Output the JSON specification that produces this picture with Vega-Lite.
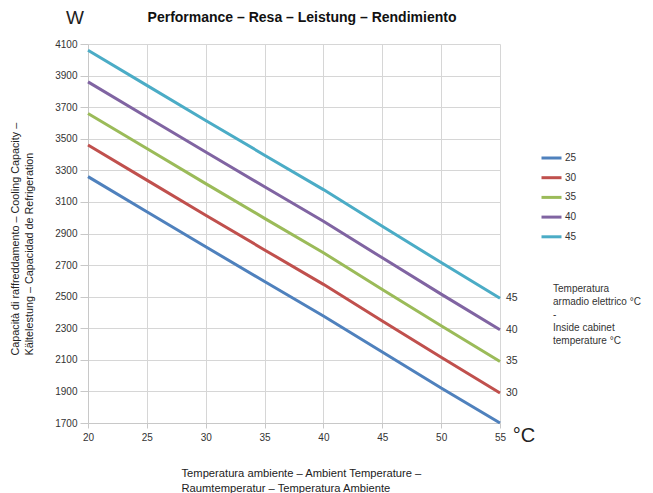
{
  "$schema": "https://vega.github.io/schema/vega-lite/v6.json",
  "autosize": "none",
  "width": 412,
  "height": 379,
  "padding": {"left": 88, "top": 44, "right": 153, "bottom": 70},
  "background": "white",
  "config": {"font": "Liberation Sans", "view": {"stroke": null}},
  "title": {"text": "Performance – Resa – Leistung – Rendimiento", "fontSize": 14, "fontWeight": "bold", "color": "#111111", "anchor": "middle", "frame": "group", "offset": -16, "dx": 8},
  "datasets": {
    "curves": [
      {"t": 20, "series": "25", "capacity": 3260}, {"t": 25, "series": "25", "capacity": 3038}, {"t": 30, "series": "25", "capacity": 2816}, {"t": 35, "series": "25", "capacity": 2596}, {"t": 40, "series": "25", "capacity": 2378}, {"t": 45, "series": "25", "capacity": 2150}, {"t": 50, "series": "25", "capacity": 1922}, {"t": 55, "series": "25", "capacity": 1700},
      {"t": 20, "series": "30", "capacity": 3460}, {"t": 25, "series": "30", "capacity": 3238}, {"t": 30, "series": "30", "capacity": 3016}, {"t": 35, "series": "30", "capacity": 2796}, {"t": 40, "series": "30", "capacity": 2578}, {"t": 45, "series": "30", "capacity": 2346}, {"t": 50, "series": "30", "capacity": 2116}, {"t": 55, "series": "30", "capacity": 1890},
      {"t": 20, "series": "35", "capacity": 3660}, {"t": 25, "series": "35", "capacity": 3438}, {"t": 30, "series": "35", "capacity": 3216}, {"t": 35, "series": "35", "capacity": 2996}, {"t": 40, "series": "35", "capacity": 2778}, {"t": 45, "series": "35", "capacity": 2546}, {"t": 50, "series": "35", "capacity": 2316}, {"t": 55, "series": "35", "capacity": 2090},
      {"t": 20, "series": "40", "capacity": 3860}, {"t": 25, "series": "40", "capacity": 3638}, {"t": 30, "series": "40", "capacity": 3416}, {"t": 35, "series": "40", "capacity": 3196}, {"t": 40, "series": "40", "capacity": 2978}, {"t": 45, "series": "40", "capacity": 2746}, {"t": 50, "series": "40", "capacity": 2516}, {"t": 55, "series": "40", "capacity": 2290},
      {"t": 20, "series": "45", "capacity": 4060}, {"t": 25, "series": "45", "capacity": 3838}, {"t": 30, "series": "45", "capacity": 3616}, {"t": 35, "series": "45", "capacity": 3396}, {"t": 40, "series": "45", "capacity": 3178}, {"t": 45, "series": "45", "capacity": 2946}, {"t": 50, "series": "45", "capacity": 2716}, {"t": 55, "series": "45", "capacity": 2490}
    ]
  },
  "layer": [
    {
      "data": {"name": "curves"},
      "mark": {"type": "line", "strokeWidth": 3},
      "encoding": {
        "x": {
          "field": "t", "type": "quantitative",
          "scale": {"domain": [20, 55], "nice": false, "zero": false},
          "axis": {
            "values": [20, 25, 30, 35, 40, 45, 50, 55], "tickCount": 20,
            "grid": true, "gridColor": "#d6d6d6",
            "domainColor": "#c8c8c8", "tickColor": "#c8c8c8", "tickSize": 5,
            "labelFontSize": 10, "labelColor": "#333333", "labelPadding": 4, "labelFlush": false,
            "title": ["Temperatura ambiente – Ambient Temperature –", "Raumtemperatur – Temperatura Ambiente"],
            "titleFontSize": 11.2, "titleFontWeight": "normal", "titleColor": "#222222",
            "titleLineHeight": 15, "titleAlign": "left", "titleAnchor": "start", "titleBaseline": "top",
            "titleX": 93, "titleY": 44
          }
        },
        "y": {
          "field": "capacity", "type": "quantitative",
          "scale": {"domain": [1700, 4100], "nice": false, "zero": false},
          "axis": {
            "values": [1700, 1900, 2100, 2300, 2500, 2700, 2900, 3100, 3300, 3500, 3700, 3900, 4100],
            "tickCount": 20, "labelOverlap": false,
            "format": "d",
            "grid": true, "gridColor": "#d6d6d6",
            "domainColor": "#c8c8c8", "tickColor": "#c8c8c8", "tickSize": 8,
            "labelFontSize": 10, "labelColor": "#333333", "labelPadding": 3,
            "title": ["Capacità di raffreddamento – Cooling Capacity –", "Kältelestung – Capacidad de Refrigeration"],
            "titleFontSize": 10.8, "titleFontWeight": "normal", "titleColor": "#222222",
            "titleLineHeight": 14, "titleAlign": "left", "titleAnchor": "start", "titleBaseline": "top",
            "titleAngle": -90, "titleX": -79, "titleY": 311
          }
        },
        "color": {
          "field": "series", "type": "nominal",
          "scale": {"domain": ["25", "30", "35", "40", "45"], "range": ["#4F81BD", "#C0504D", "#9BBB59", "#8064A2", "#4BACC6"]},
          "legend": {
            "orient": "none", "legendX": 452, "legendY": 102.5, "title": null, "padding": 0,
            "symbolType": "stroke", "symbolSize": 400, "symbolStrokeWidth": 3,
            "labelFontSize": 10, "labelColor": "#333333", "labelOffset": 2, "rowPadding": 1.7
          }
        }
      }
    },
    {
      "data": {"name": "curves"},
      "transform": [{"filter": "datum.t == 55 && datum.series != '25'"}],
      "mark": {"type": "text", "align": "left", "baseline": "middle", "dx": 6, "fontSize": 10.5, "color": "#333333"},
      "encoding": {
        "x": {"field": "t", "type": "quantitative"},
        "y": {"field": "capacity", "type": "quantitative"},
        "text": {"field": "series"}
      }
    },
    {
      "data": {"values": [{"unit": "W"}]},
      "mark": {"type": "text", "align": "center", "baseline": "middle", "dx": -13, "dy": -26, "fontSize": 19, "color": "#222222"},
      "encoding": {
        "x": {"datum": 20, "type": "quantitative"},
        "y": {"datum": 4100, "type": "quantitative"},
        "text": {"field": "unit"}
      }
    },
    {
      "data": {"values": [{"unit": "°C"}]},
      "mark": {"type": "text", "align": "center", "baseline": "middle", "dx": 24, "dy": 13, "fontSize": 20, "color": "#222222"},
      "encoding": {
        "x": {"datum": 55, "type": "quantitative"},
        "y": {"datum": 1700, "type": "quantitative"},
        "text": {"field": "unit"}
      }
    },
    {
      "data": {"values": [{"note": "Temperatura\narmadio elettrico °C\n-\nInside cabinet\ntemperature °C"}]},
      "mark": {"type": "text", "align": "left", "baseline": "top", "dx": 53, "fontSize": 10, "lineHeight": 13, "lineBreak": "\n", "color": "#333333"},
      "encoding": {
        "x": {"datum": 55, "type": "quantitative"},
        "y": {"datum": 2580, "type": "quantitative"},
        "text": {"field": "note"}
      }
    }
  ]
}
